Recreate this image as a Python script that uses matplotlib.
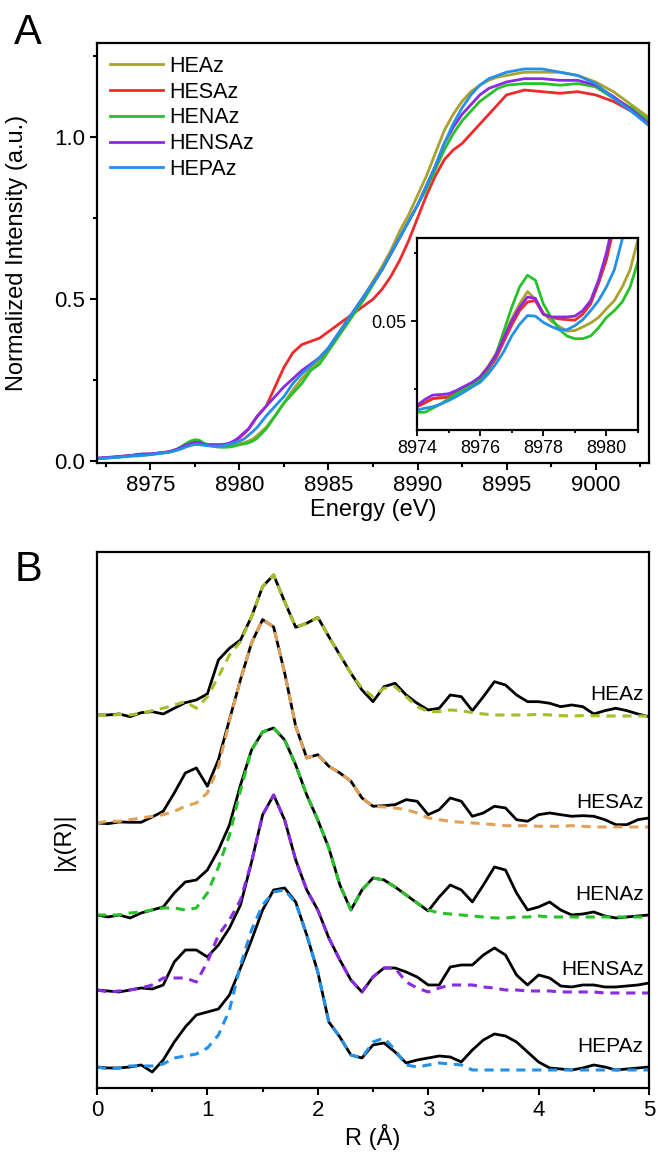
import numpy as np
import matplotlib
matplotlib.use("Agg")
import matplotlib.pyplot as plt
from matplotlib.ticker import MultipleLocator

plt.rcParams['font.family'] = ['Liberation Sans', 'DejaVu Sans']
plt.rcParams['axes.linewidth'] = 1.6
plt.rcParams['lines.solid_joinstyle'] = 'round'

#------------------------------------------------------------------------------
# Panel A: XANES, normalized intensity vs energy (eV)
energy = ([8972, 8973] + list(np.arange(8974, 8981.01, 0.25))
          + list(np.arange(8981.5, 8995.01, 0.5)) + list(range(8996, 9004)))

samples = ['HEAz', 'HESAz', 'HENAz', 'HENSAz', 'HEPAz']
colors_a = ['#a9a22c', '#f02a2a', '#27c22a', '#8a2be2', '#2390ea']

heaz_a = ([0.009, 0.013]
          + [0.0185, 0.020, 0.0215, 0.022, 0.0225, 0.024, 0.0255, 0.0273, 0.0295, 0.0333,
             0.038, 0.0445, 0.0508, 0.0563, 0.0608, 0.058, 0.053, 0.050, 0.048, 0.0463,
             0.0465, 0.0478, 0.0493, 0.0513, 0.0545, 0.0575, 0.0625, 0.0688, 0.080]
          + [0.105, 0.14, 0.18, 0.22, 0.255, 0.285, 0.31, 0.345, 0.385, 0.43,
             0.47, 0.51, 0.555, 0.60, 0.65, 0.71, 0.76, 0.82, 0.88, 0.95,
             1.02, 1.07, 1.11, 1.14, 1.16, 1.175, 1.185, 1.19]
          + [1.20, 1.20, 1.20, 1.19, 1.17, 1.14, 1.10, 1.06])
hesaz_a = ([0.009, 0.013]
           + [0.0185, 0.020, 0.0215, 0.0218, 0.022, 0.0238, 0.0255, 0.0268, 0.0283, 0.032,
              0.0363, 0.0425, 0.0485, 0.0538, 0.057, 0.0575, 0.0525, 0.0513, 0.0508, 0.0505,
              0.0503, 0.0525, 0.0563, 0.0638, 0.0725, 0.085, 0.098, 0.118, 0.138]
           + [0.17, 0.23, 0.29, 0.335, 0.36, 0.37, 0.38, 0.40, 0.42, 0.44,
              0.46, 0.48, 0.50, 0.53, 0.57, 0.62, 0.68, 0.75, 0.82, 0.88,
              0.93, 0.96, 0.98, 1.01, 1.04, 1.07, 1.10, 1.13]
           + [1.145, 1.14, 1.135, 1.14, 1.13, 1.11, 1.08, 1.045])
henaz_a = ([0.008, 0.012]
           + [0.0165, 0.0165, 0.018, 0.0195, 0.0215, 0.0233, 0.025, 0.0268, 0.0288, 0.0325,
              0.0375, 0.0463, 0.055, 0.0625, 0.0668, 0.065, 0.0563, 0.0513, 0.047, 0.0445,
              0.0435, 0.0435, 0.0445, 0.0475, 0.0513, 0.0538, 0.057, 0.0625, 0.0718]
           + [0.10, 0.14, 0.18, 0.21, 0.24, 0.28, 0.30, 0.34, 0.38, 0.42,
              0.46, 0.50, 0.545, 0.59, 0.64, 0.69, 0.74, 0.79, 0.84, 0.90,
              0.96, 1.01, 1.05, 1.08, 1.11, 1.13, 1.15, 1.16]
           + [1.165, 1.165, 1.16, 1.165, 1.155, 1.12, 1.09, 1.05])
hensaz_a = ([0.010, 0.014]
            + [0.019, 0.0212, 0.0228, 0.023, 0.0233, 0.0245, 0.026, 0.0275, 0.0295, 0.033,
               0.0375, 0.0438, 0.050, 0.055, 0.0588, 0.0583, 0.0525, 0.0515, 0.0515, 0.0515,
               0.0518, 0.0538, 0.0575, 0.065, 0.075, 0.088, 0.10, 0.12, 0.14]
            + [0.17, 0.20, 0.23, 0.255, 0.28, 0.30, 0.32, 0.35, 0.39, 0.43,
               0.47, 0.51, 0.55, 0.59, 0.64, 0.69, 0.74, 0.79, 0.85, 0.91,
               0.98, 1.03, 1.07, 1.10, 1.13, 1.15, 1.16, 1.17]
            + [1.18, 1.18, 1.175, 1.175, 1.16, 1.125, 1.085, 1.04])
hepaz_a = ([0.008, 0.012]
           + [0.0173, 0.018, 0.0185, 0.0195, 0.0208, 0.0223, 0.024, 0.0258, 0.0275, 0.0305,
              0.0343, 0.0388, 0.0445, 0.0488, 0.052, 0.0518, 0.0495, 0.048, 0.0468, 0.0468,
              0.0483, 0.0505, 0.0538, 0.0575, 0.0625, 0.0688, 0.080, 0.092, 0.105]
           + [0.14, 0.17, 0.20, 0.24, 0.27, 0.295, 0.32, 0.35, 0.39, 0.43,
              0.47, 0.51, 0.55, 0.59, 0.64, 0.69, 0.74, 0.79, 0.85, 0.91,
              0.98, 1.04, 1.09, 1.13, 1.16, 1.18, 1.19, 1.20]
           + [1.21, 1.21, 1.20, 1.19, 1.165, 1.12, 1.08, 1.035])
xanes = [heaz_a, hesaz_a, henaz_a, hensaz_a, hepaz_a]

#------------------------------------------------------------------------------
# Panel B: |chi(R)|, experiment (solid black) and fit (dashed), stacked
r = np.round(np.arange(0, 5.01, 0.1), 2)
offsets = [3.73, 2.65, 1.73, 0.98, 0.21]
colors_b = ['#a9bd2a', '#e3a158', '#27c22a', '#8a2be2', '#2390ea']

heaz_exp = [0, 0, 0.01, -0.017, 0.023, 0.033, 0.01, 0.067, 0.123, 0.15,
            0.21, 0.55, 0.667, 0.75, 0.983, 1.283, 1.40, 1.133, 0.877, 0.917,
            0.977, 0.783, 0.60, 0.417, 0.25, 0.133, 0.283, 0.317, 0.20, 0.117,
            0.05, 0.067, 0.20, 0.183, 0.043, 0.183, 0.333, 0.30, 0.20, 0.133,
            0.133, 0.117, 0.083, 0.10, 0.083, 0.01, 0.043, 0.067, 0.043, 0.01,
            -0.017]
heaz_fit = [0, -0.007, 0.007, 0, 0.017, 0.043, 0.067, 0.10, 0.133, 0.067,
            0.183, 0.383, 0.60, 0.733, 0.983, 1.283, 1.40, 1.133, 0.877, 0.917,
            0.977, 0.783, 0.60, 0.417, 0.267, 0.183, 0.267, 0.283, 0.183, 0.083,
            0.033, 0.033, 0.05, 0.043, 0.023, 0.01, 0, 0, 0, 0,
            0.007, 0, -0.007, -0.01, -0.007, -0.007, -0.01, -0.01, -0.01, -0.01,
            -0.01]
hesaz_exp = [0, -0.007, 0.01, 0.007, 0.007, 0.06, 0.117, 0.30, 0.50, 0.55,
             0.367, 0.633, 1.033, 1.433, 1.80, 2.033, 1.96, 1.50, 0.967, 0.65,
             0.683, 0.567, 0.50, 0.417, 0.25, 0.167, 0.173, 0.183, 0.233, 0.217,
             0.083, 0.133, 0.25, 0.217, 0.067, 0.10, 0.167, 0.15, 0.033, 0.017,
             0.083, 0.10, 0.083, 0.067, 0.073, 0.067, 0.033, -0.017, -0.017, 0.033,
             0.05]
hesaz_fit = [0, 0.017, 0.017, 0.033, 0.05, 0.067, 0.083, 0.117, 0.167, 0.20,
             0.30, 0.567, 1.017, 1.433, 1.80, 2.033, 1.96, 1.50, 0.967, 0.65,
             0.683, 0.567, 0.50, 0.417, 0.25, 0.167, 0.16, 0.15, 0.133, 0.10,
             0.05, 0.033, 0.017, 0.007, 0, -0.007, -0.017, -0.027, -0.027, -0.027,
             -0.033, -0.033, -0.033, -0.027, -0.033, -0.04, -0.04, -0.04, -0.04, -0.04,
             -0.04]
henaz_exp = [0, -0.02, 0, -0.03, 0.02, 0.05, 0.08, 0.22, 0.33, 0.35,
             0.45, 0.65, 0.90, 1.30, 1.65, 1.83, 1.87, 1.75, 1.50, 1.20,
             0.95, 0.67, 0.30, 0.05, 0.25, 0.37, 0.35, 0.28, 0.20, 0.12,
             0.04, 0.18, 0.30, 0.25, 0.13, 0.30, 0.48, 0.45, 0.22, 0.05,
             0.08, 0.13, 0.05, 0, 0.01, 0.03, -0.01, -0.03, -0.02, -0.01,
             0]
henaz_fit = [0, 0, 0, 0.02, 0.03, 0.05, 0.07, 0.07, 0.05, 0.07,
             0.22, 0.48, 0.80, 1.25, 1.65, 1.83, 1.87, 1.75, 1.50, 1.20,
             0.95, 0.67, 0.30, 0.05, 0.25, 0.37, 0.35, 0.28, 0.20, 0.12,
             0.05, 0.02, 0.01, 0, -0.01, -0.02, -0.03, -0.03, -0.02, -0.02,
             -0.01, -0.02, -0.02, -0.02, -0.02, -0.02, -0.02, -0.02, -0.02, -0.02,
             -0.02]
hensaz_exp = [0, -0.01, -0.02, 0, 0.02, 0.01, 0.05, 0.28, 0.40, 0.40,
              0.33, 0.45, 0.62, 0.85, 1.28, 1.75, 1.95, 1.70, 1.30, 1.00,
              0.80, 0.52, 0.30, 0.10, -0.02, 0.13, 0.22, 0.22, 0.18, 0.13,
              0.05, 0.05, 0.23, 0.25, 0.25, 0.35, 0.42, 0.35, 0.15, 0.05,
              0.15, 0.12, 0.04, 0.03, 0.05, 0.05, 0.03, 0.03, 0.04, 0.05,
              0.07]
hensaz_fit = [0, -0.02, -0.01, 0, 0.02, 0.05, 0.12, 0.12, 0.12, 0.08,
              0.28, 0.55, 0.70, 0.90, 1.28, 1.75, 1.95, 1.70, 1.30, 1.00,
              0.80, 0.52, 0.30, 0.10, -0.02, 0.13, 0.22, 0.22, 0.08, 0.02,
              -0.02, 0.02, 0.05, 0.05, 0.05, 0.03, 0.02, 0, 0, -0.01,
              -0.01, -0.01, -0.02, -0.02, -0.02, -0.02, -0.03, -0.03, -0.03, -0.03,
              -0.03]
hepaz_exp = [0, -0.01, -0.01, 0, 0.02, -0.05, 0.07, 0.25, 0.40, 0.52,
             0.55, 0.58, 0.72, 0.99, 1.27, 1.57, 1.77, 1.79, 1.65, 1.32,
             0.95, 0.45, 0.30, 0.12, 0.09, 0.22, 0.24, 0.15, 0.04, 0.07,
             0.09, 0.11, 0.10, 0.05, 0.17, 0.27, 0.33, 0.31, 0.25, 0.15,
             0.05, -0.01, -0.02, -0.03, -0.01, 0.02, 0, -0.03, -0.02, -0.01,
             0]
hepaz_fit = [0, -0.02, -0.01, 0.01, 0.01, 0.01, 0.03, 0.09, 0.11, 0.13,
             0.19, 0.32, 0.57, 1.02, 1.37, 1.62, 1.75, 1.77, 1.64, 1.32,
             0.95, 0.45, 0.30, 0.12, 0.09, 0.25, 0.29, 0.17, 0.02, 0,
             0.02, 0.04, 0.03, 0.02, -0.03, -0.03, -0.03, -0.03, -0.03, -0.03,
             -0.03, -0.03, -0.03, -0.03, -0.03, -0.03, -0.03, -0.03, -0.03, -0.03,
             -0.03]
exp_curves = [heaz_exp, hesaz_exp, henaz_exp, hensaz_exp, hepaz_exp]
fit_curves = [heaz_fit, hesaz_fit, henaz_fit, hensaz_fit, hepaz_fit]

#------------------------------------------------------------------------------
fig = plt.figure(figsize=(6.58, 11.63), dpi=100)

axA = fig.add_axes([0.1474, 0.6019, 0.8389, 0.3611])
for name, col, y in zip(samples, colors_a, xanes):
    axA.plot(energy, y, color=col, lw=2.0, label=name)
axA.set_xlim(8972, 9003)
axA.set_ylim(-0.005, 1.29)
axA.xaxis.set_major_locator(MultipleLocator(5))
axA.xaxis.set_minor_locator(MultipleLocator(2.5))
axA.yaxis.set_major_locator(MultipleLocator(0.5))
axA.yaxis.set_minor_locator(MultipleLocator(0.25))
axA.tick_params(which='both', direction='out', width=1.5, labelsize=16)
axA.tick_params(which='major', length=5)
axA.tick_params(which='minor', length=3)
axA.set_xlabel('Energy (eV)', fontsize=17, labelpad=2)
axA.set_ylabel('Normalized Intensity (a.u.)', fontsize=17)
axA.yaxis.set_label_coords(-0.125, 0.5)
axA.legend(loc='upper left', frameon=False, fontsize=15.5, handlelength=2.45,
           handletextpad=0.3, labelspacing=0.22, borderaxespad=0.2)

# inset: pre-edge region
axI = fig.add_axes([0.6337, 0.6303, 0.3359, 0.1651])
for col, y in zip(colors_a, xanes):
    axI.plot(energy, y, color=col, lw=2.0)
axI.set_xlim(8974, 8981)
axI.set_ylim(0.010, 0.0805)
axI.xaxis.set_major_locator(MultipleLocator(2))
axI.xaxis.set_minor_locator(MultipleLocator(1))
axI.yaxis.set_major_locator(MultipleLocator(0.05))
axI.yaxis.set_minor_locator(MultipleLocator(0.025))
axI.tick_params(which='both', direction='out', width=1.3, labelsize=13)
axI.tick_params(which='major', length=4)
axI.tick_params(which='minor', length=2.5)

fig.text(0.043, 0.972, 'A', fontsize=30, ha='center', va='center')

#------------------------------------------------------------------------------
axB = fig.add_axes([0.1474, 0.0645, 0.8389, 0.4609])
for name, col, off, e, f in zip(samples, colors_b, offsets, exp_curves, fit_curves):
    axB.plot(r, np.array(e) + off, color='black', lw=2.0)
    axB.plot(r, np.array(f) + off, color=col, lw=2.2, ls=(0, (3, 2.2)))
    axB.text(4.95, off + 0.2, name, fontsize=15, ha='right', va='center')
axB.set_xlim(0, 5)
axB.set_ylim(0, 5.36)
axB.set_yticks([])
axB.xaxis.set_major_locator(MultipleLocator(1))
axB.xaxis.set_minor_locator(MultipleLocator(0.5))
axB.tick_params(which='both', direction='out', width=1.5, labelsize=16)
axB.tick_params(which='major', length=5)
axB.tick_params(which='minor', length=3)
axB.set_xlabel('R (Å)', fontsize=17, labelpad=2)
axB.set_ylabel('|χ(R)|', fontsize=17)
axB.yaxis.set_label_coords(-0.04, 0.46)

fig.text(0.043, 0.51, 'B', fontsize=30, ha='center', va='center')

fig.savefig('out.png', dpi=100)
